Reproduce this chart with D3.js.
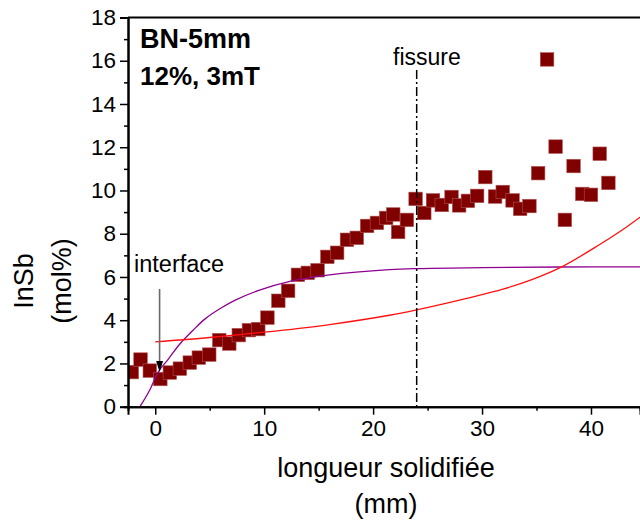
<!DOCTYPE html>
<html>
<head>
<meta charset="utf-8">
<script src="https://cdn.jsdelivr.net/npm/d3@7"></script>
<style>
  body { margin: 0; background: #fff; }
  svg { display: block; font-family: Arial, "Liberation Sans", sans-serif; }
  .axis path, .axis line { stroke: #000; }
  .axis text { font-size: 22.5px; fill: #000; font-family: Arial, "Liberation Sans", sans-serif; }
</style>
</head>
<body>
<svg width="640" height="524"></svg>
<script>
// measured points (longueur solidifiée, InSb mol%)
const posX = [-2.15, -1.35, -0.5, 0.47, 1.34, 2.26, 3.17, 4.0, 4.96, 5.88, 6.8, 7.67, 8.6, 9.46, 10.3,
  11.3, 12.2, 13.1, 14.0, 14.9, 15.8, 16.7, 17.6, 18.5, 19.45, 20.35, 21.2, 21.85, 22.3, 23.1,
  23.9, 24.7, 25.5, 26.3, 27.2, 27.9, 28.7, 29.55, 30.3, 31.2, 31.9, 32.8, 33.5, 34.35, 35.15,
  35.97, 36.75, 37.6, 38.4, 39.2, 40.0, 40.8, 41.6];
const inSb = [1.6, 2.18, 1.67, 1.28, 1.58, 1.76, 2.04, 2.27, 2.41, 3.08, 2.92, 3.31, 3.54, 3.59, 4.12,
  4.9, 5.36, 6.1, 6.19, 6.31, 6.93, 7.12, 7.72, 7.81, 8.36, 8.5, 8.73, 8.89, 8.08, 8.64,
  9.61, 8.96, 9.54, 9.33, 9.7, 9.31, 9.52, 9.75, 10.62, 9.72, 9.93, 9.54, 9.15, 9.28, 10.8,
  16.06, 12.03, 8.64, 11.13, 9.84, 9.8, 11.7, 10.35];

// purple curve
const purpleX = [-1.4, -0.5, 0.27, 1.2, 2.26, 3.5, 4.55, 6, 7.3, 9.5, 12.35, 16, 21.5, 24.1, 30, 37, 45];
const purpleY = [0, 0.77, 1.6, 2.2, 2.9, 3.55, 4.05, 4.55, 4.92, 5.38, 5.8, 6.1, 6.34, 6.39, 6.43, 6.46, 6.47];

// red curve
const redX = [0, 5, 11, 16, 21.5, 24.1, 28.5, 32, 34.7, 37.4, 40.8, 42.8, 44.6];
const redY = [3.0, 3.2, 3.5, 3.8, 4.23, 4.49, 5.0, 5.45, 5.9, 6.49, 7.5, 8.15, 8.8];

const xTicks = [0, 10, 20, 30, 40];
const yTicks = [0, 2, 4, 6, 8, 10, 12, 14, 16, 18];
const fissureX = 24;
const interfaceX = 0.4;

const svg = d3.select('svg');
const pLeft = 128, pRight = 640, pTop = 17.5, pBottom = 406.7;

const x = d3.scaleLinear().domain([-2.5, 44.5]).range([pLeft, pRight]);
const y = d3.scaleLinear().domain([0, 18]).range([pBottom, pTop]);

svg.append('defs').append('clipPath')
  .attr('id', 'plot')
  .append('rect')
  .attr('x', pLeft).attr('y', pTop)
  .attr('width', pRight - pLeft).attr('height', pBottom - pTop);

const plot = svg.append('g').attr('clip-path', 'url(#plot)');

// squares
const s = 13.5;
plot.selectAll('rect.pt')
  .data(posX.map((d, i) => [d, inSb[i]]))
  .enter()
  .append('rect')
  .attr('class', 'pt')
  .attr('x', d => x(d[0]) - s / 2)
  .attr('y', d => y(d[1]) - s / 2)
  .attr('width', s)
  .attr('height', s)
  .attr('fill', '#800000')
  .attr('stroke', '#b05050')
  .attr('stroke-width', 0.6);

const line = d3.line()
  .x(d => x(d[0]))
  .y(d => y(d[1]))
  .curve(d3.curveCatmullRom.alpha(0.5));

plot.append('path')
  .datum(purpleX.map((d, i) => [d, purpleY[i]]))
  .attr('d', line)
  .attr('fill', 'none')
  .attr('stroke', '#900090')
  .attr('stroke-width', 1.3);

plot.append('path')
  .datum(redX.map((d, i) => [d, redY[i]]))
  .attr('d', line)
  .attr('fill', 'none')
  .attr('stroke', '#ff1010')
  .attr('stroke-width', 1.3);

// fissure line
svg.append('line')
  .attr('x1', x(fissureX)).attr('x2', x(fissureX))
  .attr('y1', 70).attr('y2', pBottom)
  .attr('stroke', '#000')
  .attr('stroke-width', 1.5)
  .attr('stroke-dasharray', '9,3,2,3');

svg.append('text')
  .attr('x', 393).attr('y', 65)
  .style('font-size', '23px')
  .text('fissure');

// interface arrow
const ax = x(interfaceX);
svg.append('line')
  .attr('x1', ax).attr('x2', ax)
  .attr('y1', 289).attr('y2', 362)
  .attr('stroke', '#6a6a6a')
  .attr('stroke-width', 1.6);
svg.append('path')
  .attr('d', `M${ax - 3.5},361 L${ax + 3.5},361 L${ax},372 Z`)
  .attr('fill', '#000');

svg.append('text')
  .attr('x', 134).attr('y', 272)
  .style('font-size', '23.5px')
  .text('interface');

// axes
const xAxis = d3.axisBottom(x).tickValues(xTicks).tickSize(8).tickPadding(5).tickFormat(d3.format('d'));
const xMinor = d3.axisBottom(x).tickValues([5, 15, 25, 35]).tickSize(4).tickFormat('');
const yAxis = d3.axisLeft(y).tickValues(yTicks).tickSize(8).tickPadding(4);
const yMinor = d3.axisLeft(y).tickValues(d3.range(1, 18, 2)).tickSize(4).tickFormat('');

svg.append('g').attr('class', 'axis').attr('transform', `translate(0,${pBottom})`).call(xAxis);
svg.append('g').attr('class', 'axis').attr('transform', `translate(0,${pBottom})`).call(xMinor);
svg.append('g').attr('class', 'axis').attr('transform', `translate(${pLeft},0)`).call(yAxis);
svg.append('g').attr('class', 'axis').attr('transform', `translate(${pLeft},0)`).call(yMinor);

svg.selectAll('.axis path.domain').attr('stroke-width', 2);
svg.selectAll('.axis .tick line').attr('stroke-width', 1.5);

// top border
svg.append('line')
  .attr('x1', pLeft).attr('x2', pRight)
  .attr('y1', pTop).attr('y2', pTop)
  .attr('stroke', '#000')
  .attr('stroke-width', 2);

// labels
svg.append('text')
  .attr('x', 140).attr('y', 48)
  .style('font-size', '27px').style('font-weight', 'bold')
  .text('BN-5mm');
svg.append('text')
  .attr('x', 140).attr('y', 85)
  .style('font-size', '26px').style('font-weight', 'bold')
  .text('12%, 3mT');

svg.append('text')
  .attr('x', 386).attr('y', 477)
  .attr('text-anchor', 'middle')
  .style('font-size', '27px')
  .text('longueur solidifiée');
svg.append('text')
  .attr('x', 386).attr('y', 513)
  .attr('text-anchor', 'middle')
  .style('font-size', '27px')
  .text('(mm)');

svg.append('text')
  .attr('transform', 'translate(33,281) rotate(-90)')
  .attr('text-anchor', 'middle')
  .style('font-size', '27px')
  .text('InSb');
svg.append('text')
  .attr('transform', 'translate(71,281) rotate(-90)')
  .attr('text-anchor', 'middle')
  .style('font-size', '27px')
  .text('(mol%)');
</script>
</body>
</html>
